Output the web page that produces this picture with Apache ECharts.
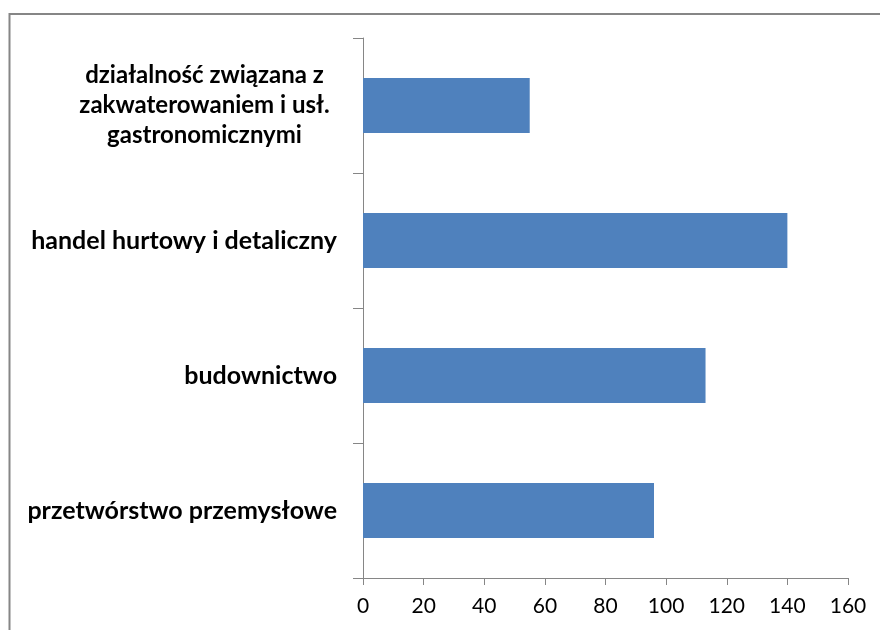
<!DOCTYPE html>
<html>
<head>
<meta charset="utf-8">
<script src="https://cdn.jsdelivr.net/npm/echarts@6/dist/echarts.min.js"></script>
<style>
  html, body { margin: 0; padding: 0; background: #fff; }
  #chart { width: 880px; height: 630px; }
</style>
</head>
<body>
<div id="chart"></div>
<script>
// categories bottom -> top
const categories = [
  'przetwórstwo przemysłowe',
  'budownictwo',
  'handel hurtowy i detaliczny',
  'działalność związana z\nzakwaterowaniem i usł.\ngastronomicznymi'
];
const values = [96, 113, 140, 55];
const xTicks = [0, 20, 40, 60, 80, 100, 120, 140, 160];

const chart = echarts.init(document.getElementById('chart'), null, { renderer: 'canvas' });

chart.setOption({
  backgroundColor: '#ffffff',
  animation: false,
  graphic: [{
    type: 'rect',
    shape: { x: 9.5, y: 14, width: 900, height: 700 },
    style: { fill: null, stroke: '#868686', lineWidth: 2 },
    silent: true
  }],
  grid: {
    left: 363,
    right: 32,
    top: 38,
    bottom: 52
  },
  xAxis: {
    type: 'value',
    min: xTicks[0],
    max: xTicks[xTicks.length - 1],
    interval: 20,
    axisLine: { show: true, lineStyle: { color: '#868686', width: 1 } },
    axisTick: { show: true, length: 7, lineStyle: { color: '#868686' } },
    splitLine: { show: false },
    axisLabel: {
      margin: 18,
      color: '#000',
      fontFamily: 'Lato',
      fontSize: 21
    }
  },
  yAxis: {
    type: 'category',
    data: categories,
    axisLine: { show: true, lineStyle: { color: '#868686', width: 1 } },
    axisTick: { show: true, length: 10, lineStyle: { color: '#868686' } },
    axisLabel: {
      margin: 26,
      color: '#000',
      fontFamily: 'Lato',
      fontWeight: 'bold',
      fontSize: 25,
      lineHeight: 30,
      formatter: function (v) {
        if (v.indexOf('\n') < 0) return v;
        return v.split('\n').map(function (l) { return '{c|' + l + '}'; }).join('\n');
      },
      rich: {
        c: {
          width: 265,
          align: 'center',
          color: '#000',
          fontFamily: 'Lato',
          fontWeight: 'bold',
          fontSize: 24,
          lineHeight: 30
        }
      }
    }
  },
  series: [{
    type: 'bar',
    data: values,
    barWidth: 55,
    itemStyle: { color: '#4f81bd' }
  }]
});
</script>
</body>
</html>
